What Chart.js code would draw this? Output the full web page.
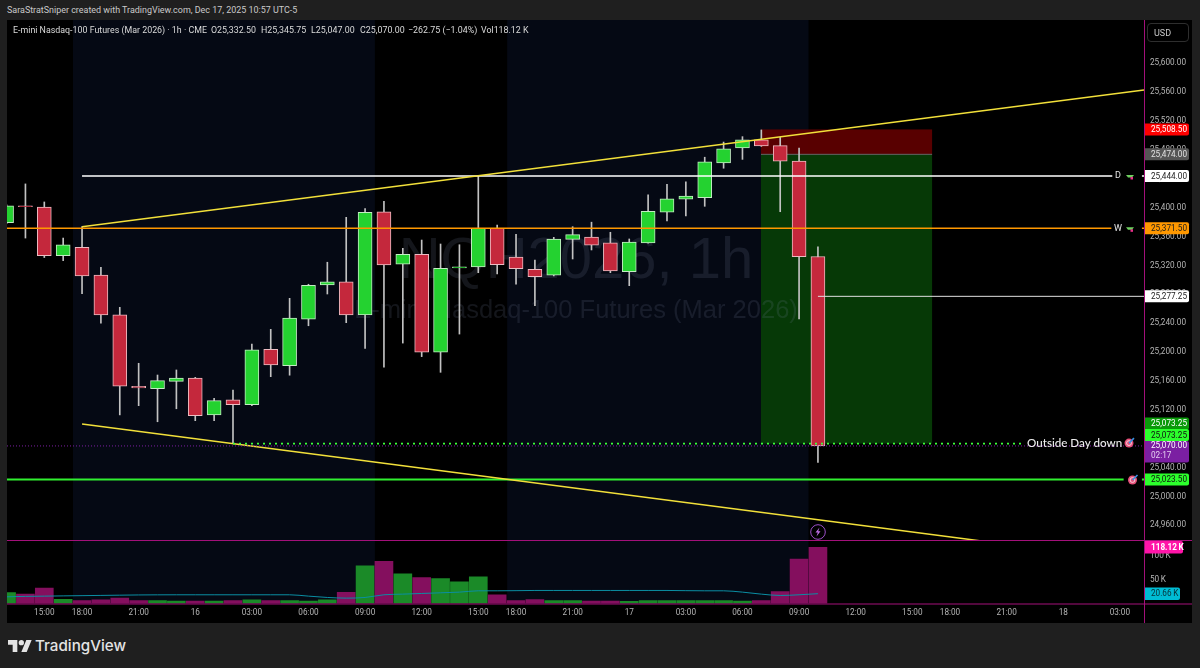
<!DOCTYPE html>
<html>
<head>
<meta charset="utf-8">
<title>NQH2026 1h</title>
<script src="https://cdn.jsdelivr.net/npm/chart.js@4/dist/chart.umd.min.js"></script>
<style>
  html, body { margin: 0; padding: 0; background: #1f1f1f; width: 1200px; height: 668px; overflow: hidden; }
  body { font-family: Roboto, sans-serif; color: #c8c8c8; position: relative; }
  #frame { position: absolute; left: 7px; top: 20px; width: 1185px; height: 603px; background: #000; }
  canvas { position: absolute; left: 7px; display: block; }
  #cPrice { top: 20px; }
  #cVol { top: 541px; }
  .t { position: absolute; white-space: nowrap; }
  #credit { left: 7px; top: 5px; font-size: 8.95px; color: #cacaca; }
  .leg { top: 25px; font-size: 8.85px; color: #dadada; }
  #usd { left: 1147px; top: 23px; width: 42px; height: 19px; line-height: 19px; border: 1px solid #2e2e2e; border-radius: 4px; box-sizing: border-box; font-size: 9px; text-indent: 6px; color: #c8c8c8; }
  #tvText { left: 35px; top: 636px; font-family: Inter, sans-serif; font-weight: 500; font-size: 15.2px; color: #e4e4e4; }
  #tvLogo { position: absolute; left: 8px; top: 639px; }
</style>
</head>
<body>
<div id="frame"></div>
<canvas id="cPrice" width="1185" height="521"></canvas>
<canvas id="cVol" width="1185" height="82"></canvas>

<div class="t" id="credit">SaraStratSniper created with TradingView.com, Dec 17, 2025 10:57 UTC-5</div>
<div class="t leg" style="left:13px">E-mini Nasdaq-100 Futures (Mar 2026) · 1h · CME</div>
<div class="t leg" style="left:211px">O25,332.50</div>
<div class="t leg" style="left:261px">H25,345.75</div>
<div class="t leg" style="left:311px">L25,047.00</div>
<div class="t leg" style="left:360px">C25,070.00</div>
<div class="t leg" style="left:408px">−262.75 (−1.04%)</div>
<div class="t leg" style="left:481px">Vol118.12 K</div>
<div class="t" id="usd">USD</div>

<svg id="tvLogo" width="24" height="14" viewBox="0 3 36 20"><path fill="#e4e4e4" d="M14 22H7V11H0V4h14v18zM28 22h-8l7.5-18h8L28 22z"/><circle fill="#e4e4e4" cx="20" cy="8" r="4"/></svg>
<div class="t" id="tvText">TradingView</div>

<script>
  // Velas de 1h, posicao = indice da barra (0 = 13:00 do dia 15)
  const opens = [25379.25, 25402.5, 25401, 25333.5, 25345.25, 25306.75, 25251.75, 25152.5, 25149.25, 25159.5, 25164, 25113, 25133.75, 25127.25, 25204, 25181.25, 25245.5, 25293, 25297.5, 25251.5, 25394.5, 25321.75, 25335.5, 25199.75, 25316.75, 25318, 25371.5, 25331.5, 25314.75, 25306.5, 25356.25, 25359.5, 25351.5, 25311.5, 25351.25, 25394, 25412, 25414, 25462, 25482.75, 25494, 25486, 25464.5, 25332.5];
  const highs = [25404, 25433, 25408, 25358, 25373.75, 25317.5, 25262, 25184.5, 25168.25, 25175.25, 25165, 25136, 25147.5, 25211.25, 25231.5, 25274.5, 25294, 25324.5, 25386.75, 25398.75, 25409, 25343.75, 25355.25, 25349.75, 25348.75, 25444, 25376, 25363.25, 25327.5, 25359, 25373.75, 25380, 25366, 25356.75, 25417.75, 25432.5, 25436, 25470, 25491, 25498.5, 25507.75, 25497.5, 25482.5, 25345.75];
  const lows = [25378, 25358, 25331, 25326.75, 25281, 25240, 25113, 25125.75, 25103.5, 25121.5, 25105, 25105, 25073.25, 25125.75, 25166, 25168, 25236.5, 25280.5, 25240.75, 25205.25, 25179, 25212.5, 25193.75, 25172, 25225, 25310, 25308.25, 25294, 25264.25, 25305.5, 25329, 25341.5, 25310, 25292, 25351, 25381.75, 25388.5, 25402, 25454.75, 25467, 25485, 25394.5, 25246, 25047];
  const closes = [25402.5, 25401.5, 25333.5, 25348.5, 25305.5, 25251.5, 25152.75, 25150.5, 25160.5, 25164, 25112, 25132.75, 25127.25, 25203, 25182.25, 25247, 25292.5, 25297.5, 25251.5, 25393.75, 25320.75, 25335.5, 25199.75, 25316, 25318, 25371.5, 25321, 25315.5, 25304.5, 25356.75, 25362.75, 25348, 25312.5, 25352.5, 25395, 25412.5, 25416, 25463.5, 25481.75, 25494, 25485.5, 25464.5, 25332.25, 25070];
  const volumes = [23, 20, 32.6, 9, 6.4, 7.8, 11.3, 6.4, 6.4, 5, 5, 5, 6.4, 7.8, 6.4, 6.4, 5, 7.8, 23.4, 79.4, 88.7, 62.4, 54.6, 52.5, 45.4, 56, 18.4, 6.4, 8.5, 6.4, 6.4, 5, 5, 4.3, 6.4, 6.4, 6.4, 6.4, 6.4, 5, 6.4, 24.8, 93.6, 118.12];
  const volumeMa = [14, 15, 15.5, 16, 16.5, 17, 17.5, 18, 18.2, 18.3, 18.3, 18.3, 18.3, 18.3, 18.3, 18.3, 15.5, 12.7, 11.3, 12.7, 18.3, 19.7, 21.1, 22.5, 23.9, 26.7, 26.7, 27, 27.4, 27.4, 27.4, 27.4, 27.4, 27.4, 27.4, 27.4, 27, 26.7, 26.7, 23.9, 19.7, 16.9, 18.3, 20.66];

  // Eixos
  const priceTicks = [24960, 25000, 25040, 25080, 25120, 25160, 25200, 25240, 25280, 25320, 25360, 25400, 25440, 25480, 25520, 25560, 25600];
  const volumeTicks = [50, 100];
  const timeTickBars = [2, 4, 7, 10, 13, 16, 19, 22, 25, 27, 30, 33, 36, 39, 42, 45, 48, 50, 53, 56, 59];
  const timeTickLabels = ['15:00', '18:00', '21:00', '16', '03:00', '06:00', '09:00', '12:00', '15:00', '18:00', '21:00', '17', '03:00', '06:00', '09:00', '12:00', '15:00', '18:00', '21:00', '18', '03:00'];

  // Sessoes e niveis desenhados
  const sessionStarts = [3.52, 26.53];
  const sessionEnds = [19.52, 42.5];
  const levelDaily = 25444;
  const levelWeekly = 25371.5;
  const levelLast = 25277.25;
  const levelOutside = 25073.25;
  const levelTarget = 25023.5;
  const lastPrice = 25070;
  const riskStop = 25508.5;
  const riskEntry = 25474;
  const riskStart = 39.98;
  const riskEnd = 49.05;
  const upperTrendBars = [4, 60.28];
  const upperTrendPrices = [25373.75, 25563];
  const lowerTrendBars = [4, 60.28];
  const lowerTrendPrices = [25100.5, 24909];

  const xMin = 0.023;
  const xMax = 60.28;
  const priceMin = 24938.3;
  const priceMax = 25660.1;
  const AXIS_W = 48;
  const UP = '#24d230', DOWN = '#c4283c';
  const AXIS_COLOR = '#b4b4b4';
  const PANE_LINE = '#a3107a';
  const NAVY = '#050914';
  const AXIS_FONT_PX = 8.2;

  const bars = opens.map((_, i) => i);
  const isUp = i => closes[i] >= opens[i];

  function lineSet(xs, ys, color, width, dash) {
    return {
      type: 'line',
      data: xs.map((x, i) => ({ x: x, y: ys[i] })),
      borderColor: color,
      borderWidth: width,
      borderDash: dash || [],
      pointRadius: 0,
      tension: 0,
      spanGaps: false,
      order: 0
    };
  }

  function fmtPrice(v) {
    return v.toLocaleString('en-US', { minimumFractionDigits: 2, maximumFractionDigits: 2 });
  }

  // eixo de largura fixa e sem margem extra em cima/baixo
  function fitYAxis(s) {
    s.width = AXIS_W;
    s.paddingTop = 0;
    s.paddingBottom = 0;
  }

  // Fundo das sessoes
  function drawSessions(chart) {
    const { ctx, chartArea: a, scales } = chart;
    ctx.save();
    ctx.fillStyle = NAVY;
    sessionStarts.forEach((s, i) => {
      const x0 = scales.x.getPixelForValue(s);
      const x1 = scales.x.getPixelForValue(sessionEnds[i]);
      ctx.fillRect(x0, a.top, x1 - x0, a.bottom - a.top);
    });
    ctx.restore();
  }

  function drawTag(ctx, x, y, w, h, bg, fg, text) {
    ctx.fillStyle = bg;
    ctx.beginPath();
    ctx.roundRect(x, y - h / 2, w, h, [0, 2, 2, 0]);
    ctx.fill();
    ctx.fillStyle = fg;
    ctx.fillText(text, x + 6, y + 0.5);
  }

  // Alvo (emoji do indicador)
  function drawTargetIcon(ctx, x, y) {
    ctx.fillStyle = '#e8507a';
    ctx.beginPath(); ctx.arc(x, y, 4.5, 0, Math.PI * 2); ctx.fill();
    ctx.strokeStyle = '#f4d4dc';
    ctx.lineWidth = 1;
    ctx.beginPath(); ctx.arc(x, y, 2.4, 0, Math.PI * 2); ctx.stroke();
    ctx.strokeStyle = '#3a8fe0';
    ctx.lineWidth = 1.6;
    ctx.beginPath(); ctx.moveTo(x, y); ctx.lineTo(x + 5, y - 5); ctx.stroke();
  }

  const pricePanePlugin = {
    id: 'pricePane',
    beforeDatasetsDraw(chart) {
      const { ctx, chartArea: a, scales } = chart;
      const sx = scales.x, sy = scales.y;
      drawSessions(chart);

      // caixa de risco
      const x0 = sx.getPixelForValue(riskStart), x1 = sx.getPixelForValue(riskEnd);
      const yStop = sy.getPixelForValue(riskStop), yEntry = sy.getPixelForValue(riskEntry), yGoal = sy.getPixelForValue(levelOutside);
      ctx.save();
      ctx.fillStyle = 'rgba(94, 0, 0, 0.94)';
      ctx.fillRect(x0, yStop, x1 - x0, yEntry - yStop);
      ctx.fillStyle = 'rgba(6, 60, 6, 0.95)';
      ctx.fillRect(x0, yEntry, x1 - x0, yGoal - yEntry);
      ctx.fillStyle = '#666';
      ctx.fillRect(x0, yEntry - 0.5, x1 - x0, 1);

      // marca d'agua por cima da caixa
      ctx.textAlign = 'center';
      ctx.textBaseline = 'middle';
      ctx.fillStyle = 'rgba(120, 130, 160, 0.17)';
      ctx.font = '58px "Liberation Sans"';
      ctx.fillText('NQH2026, 1h', 569, 242);
      ctx.font = '25.5px "Liberation Sans"';
      ctx.fillText('E-mini Nasdaq-100 Futures (Mar 2026)', 569, 291);
      ctx.restore();
    },
    afterDraw(chart) {
      const { ctx, chartArea: a, scales } = chart;
      const sy = scales.y;
      const r = a.right;
      ctx.save();

      // linha vertical do eixo
      ctx.fillStyle = PANE_LINE;
      ctx.fillRect(r, 0, 1, chart.height);
      ctx.fillRect(0, a.bottom - 1, chart.width, 1);

      // rotulos junto das linhas
      ctx.textBaseline = 'middle';
      ctx.textAlign = 'left';
      ctx.font = '9px Roboto';
      ctx.fillStyle = '#e6e6e6';
      ctx.fillText('D', 1108, sy.getPixelForValue(levelDaily));
      ctx.fillText('W', 1107, sy.getPixelForValue(levelWeekly));
      [levelDaily, levelWeekly].forEach(v => {
        const y = sy.getPixelForValue(v);
        ctx.fillStyle = '#6fd060';
        ctx.beginPath(); ctx.moveTo(1119, y - 1); ctx.lineTo(1127, y - 1); ctx.lineTo(1125, y + 1.5); ctx.lineTo(1121, y + 1.5); ctx.fill();
        ctx.fillStyle = '#e8308a';
        ctx.fillRect(1123.5, y + 1, 2.5, 2.5);
      });
      ctx.font = '500 11.6px Lato';
      ctx.fillStyle = '#ececec';
      ctx.fillText('Outside Day down', 1020, sy.getPixelForValue(levelOutside) - 0.5);
      drawTargetIcon(ctx, 1122, sy.getPixelForValue(levelOutside) - 0.5);
      drawTargetIcon(ctx, 1125.5, sy.getPixelForValue(levelTarget) + 0.5);

      // relampago sob a ultima vela
      const lx = 811, ly = 512;
      ctx.strokeStyle = '#9c4fc8';
      ctx.lineWidth = 1;
      ctx.beginPath(); ctx.arc(lx, ly, 7.3, 0, Math.PI * 2); ctx.stroke();
      ctx.fillStyle = '#c070e8';
      ctx.beginPath();
      ctx.moveTo(lx + 1.5, ly - 4.5); ctx.lineTo(lx - 2.5, ly + 0.5); ctx.lineTo(lx - 0.2, ly + 0.5);
      ctx.lineTo(lx - 1.5, ly + 4.5); ctx.lineTo(lx + 2.5, ly - 0.8); ctx.lineTo(lx + 0.2, ly - 0.8);
      ctx.closePath(); ctx.fill();

      // etiquetas de preco
      ctx.font = AXIS_FONT_PX + 'px Roboto';
      const tagX = r + 1, tagW = 44;
      const tag = (v, dy, bg, fg) => drawTag(ctx, tagX, sy.getPixelForValue(v) + dy, tagW, 12, bg, fg, fmtPrice(v));
      tag(riskStop, 0, '#ff0000', '#ffffff');
      tag(riskEntry, 0, '#555555', '#e0e0e0');
      tag(levelDaily, 0, '#ffffff', '#1c1c1c');
      tag(levelWeekly, 0, '#ff9800', '#1c1c1c');
      tag(levelLast, 0, '#ffffff', '#1c1c1c');
      tag(levelOutside, -20, '#0a9a0a', '#ffffff');
      tag(levelOutside, -8.5, '#2cff2c', '#111111');
      tag(levelTarget, 0, '#2cff2c', '#111111');

      const yLast = sy.getPixelForValue(lastPrice);
      ctx.fillStyle = '#7b1fa2';
      ctx.beginPath();
      ctx.roundRect(tagX, yLast - 5, tagW, 21.5, [0, 2, 2, 0]);
      ctx.fill();
      ctx.fillStyle = '#ffffff';
      ctx.fillText(fmtPrice(lastPrice), tagX + 6, yLast + 0.5);
      ctx.fillStyle = '#e4cdf0';
      ctx.fillText('02:17', tagX + 6, yLast + 10);
      ctx.restore();
    }
  };

  const volPanePlugin = {
    id: 'volPane',
    beforeDatasetsDraw(chart) {
      drawSessions(chart);
    },
    afterDraw(chart) {
      const { ctx, chartArea: a, scales } = chart;
      const sy = scales.y;
      ctx.save();
      ctx.fillStyle = PANE_LINE;
      ctx.fillRect(a.right, 0, 1, chart.height);
      ctx.fillRect(0, a.bottom, chart.width, 1);
      ctx.textBaseline = 'middle';
      ctx.textAlign = 'left';
      ctx.font = '700 ' + AXIS_FONT_PX + 'px Roboto';
      drawTag(ctx, a.right + 1, sy.getPixelForValue(volumes[volumes.length - 1]), 38, 12.5, '#ff14a8', '#ffffff', '118.12\u2009K');
      ctx.font = AXIS_FONT_PX + 'px Roboto';
      drawTag(ctx, a.right + 1, sy.getPixelForValue(volumeMa[volumeMa.length - 1]), 35, 12.5, '#00bcd4', '#083038', '20.66\u2009K');
      ctx.restore();
    }
  };

  const yAxisFont = { family: 'Roboto', size: AXIS_FONT_PX };

  new Chart(document.getElementById('cPrice').getContext('2d'), {
    type: 'bar',
    data: {
      datasets: [
        lineSet([xMin, xMax], [lastPrice, lastPrice], '#7b1fa2', 1, [1, 2]),
        lineSet([12, 53.87], [levelOutside, levelOutside], '#3dff3d', 1.6, [2, 4]),
        lineSet(upperTrendBars, upperTrendPrices, '#f2e03a', 1.5),
        lineSet(lowerTrendBars, lowerTrendPrices, '#f2e03a', 1.5),
        lineSet([4, 58.6, 58.6, 60.17, xMax], [levelDaily, levelDaily, null, levelDaily, levelDaily], '#ffffff', 1.5),
        lineSet([xMin, 58.55, 58.55, 60.17, xMax], [levelWeekly, levelWeekly, null, levelWeekly, levelWeekly], '#ff9800', 1.5),
        lineSet([43, xMax], [levelLast, levelLast], '#e0e0e0', 1),
        lineSet([xMin, 59.2, 59.2, 60.17, xMax], [levelTarget, levelTarget, null, levelTarget, levelTarget], '#30f030', 2),
        {
          // corpos
          data: bars.map(i => ({ x: i, y: [Math.min(opens[i], closes[i]), Math.max(opens[i], closes[i])] })),
          backgroundColor: bars.map(i => isUp(i) ? UP : DOWN),
          borderColor: bars.map(i => isUp(i) ? '#c4ecc4' : '#ecbcc2'),
          borderWidth: 1,
          borderSkipped: false,
          barThickness: 14,
          grouped: false,
          order: 1
        },
        {
          // pavios
          data: bars.map(i => ({ x: i, y: [lows[i], highs[i]] })),
          backgroundColor: '#c2c2c2',
          borderWidth: 0,
          barThickness: 1,
          grouped: false,
          order: 2
        }
      ]
    },
    options: {
      responsive: false,
      animation: false,
      events: [],
      layout: { padding: 0 },
      plugins: { legend: { display: false }, tooltip: { enabled: false } },
      scales: {
        x: { type: 'linear', min: xMin, max: xMax, offset: false, display: false },
        y: {
          position: 'right',
          min: priceMin,
          max: priceMax,
          afterFit: fitYAxis,
          afterBuildTicks: s => { s.ticks = priceTicks.map(v => ({ value: v })); },
          grid: { display: false, drawTicks: false },
          border: { display: false },
          ticks: { color: AXIS_COLOR, font: yAxisFont, padding: 6, callback: v => fmtPrice(v) }
        }
      }
    },
    plugins: [pricePanePlugin]
  });

  new Chart(document.getElementById('cVol').getContext('2d'), {
    type: 'bar',
    data: {
      datasets: [
        {
          type: 'line',
          data: bars.map(i => ({ x: i, y: volumeMa[i] })),
          borderColor: '#0b8ea3',
          borderWidth: 1,
          pointRadius: 0,
          cubicInterpolationMode: 'monotone',
          order: 0
        },
        {
          data: bars.map(i => ({ x: i, y: volumes[i] })),
          backgroundColor: bars.map(i => isUp(i) ? '#1b8a28' : '#840f5e'),
          barThickness: 18,
          grouped: false,
          order: 1
        }
      ]
    },
    options: {
      responsive: false,
      animation: false,
      events: [],
      layout: { padding: 0 },
      plugins: { legend: { display: false }, tooltip: { enabled: false } },
      scales: {
        x: {
          type: 'linear',
          min: xMin,
          max: xMax,
          offset: false,
          afterBuildTicks: s => { s.ticks = timeTickBars.map(v => ({ value: v })); },
          grid: { display: false, drawTicks: false },
          border: { display: false },
          ticks: {
            color: AXIS_COLOR,
            font: yAxisFont,
            padding: 5,
            autoSkip: false,
            maxRotation: 0,
            callback: v => timeTickLabels[timeTickBars.indexOf(v)]
          },
          afterFit: s => { s.height = 19.5; }
        },
        y: {
          position: 'right',
          min: 0,
          max: 131.4,
          afterFit: fitYAxis,
          afterBuildTicks: s => { s.ticks = volumeTicks.map(v => ({ value: v })); },
          grid: { display: false, drawTicks: false },
          border: { display: false },
          ticks: { color: AXIS_COLOR, font: yAxisFont, padding: 6, callback: v => v + '\u2009K' }
        }
      }
    },
    plugins: [volPanePlugin]
  });
</script>
</body>
</html>
